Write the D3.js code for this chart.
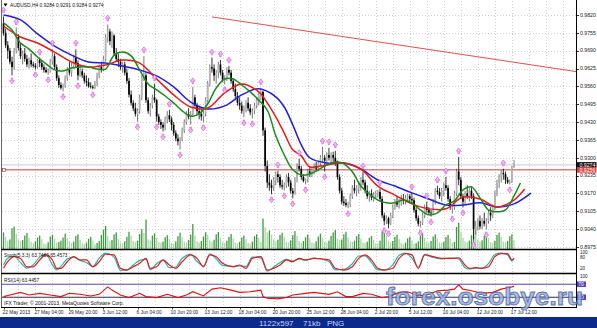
<!DOCTYPE html>
<html><head><meta charset="utf-8">
<script src="https://cdn.jsdelivr.net/npm/d3@7"></script>
<style>
html,body{margin:0;padding:0;background:#fff;overflow:hidden;}
svg{display:block;}
text{font-family:"Liberation Sans",Arial,sans-serif;}
</style></head><body>
<svg id="c" width="597" height="328"></svg>
<script>
// ---------- DATA ----------
const candles = [
[0.9790,0.9815,0.9745,0.9755],[0.9755,0.9770,0.9700,0.9710],[0.9710,0.9725,0.9660,0.9690],[0.9690,0.9700,0.9640,0.9650],
[0.9650,0.9668,0.9600,0.9630],[0.9630,0.9700,0.9620,0.9690],[0.9690,0.9775,0.9680,0.9740],[0.9740,0.9750,0.9690,0.9700],
[0.9700,0.9715,0.9660,0.9670],[0.9670,0.9690,0.9640,0.9680],[0.9680,0.9700,0.9650,0.9660],[0.9660,0.9675,0.9630,0.9640],
[0.9640,0.9665,0.9625,0.9655],[0.9655,0.9680,0.9630,0.9640],[0.9640,0.9650,0.9628,0.9635],[0.9635,0.9645,0.9622,0.9630],
[0.9630,0.9660,0.9625,0.9655],[0.9655,0.9665,0.9630,0.9645],[0.9645,0.9655,0.9620,0.9630],[0.9630,0.9640,0.9610,0.9620],
[0.9620,0.9630,0.9608,0.9612],[0.9612,0.9625,0.9603,0.9615],[0.9615,0.9660,0.9610,0.9650],[0.9650,0.9695,0.9640,0.9670],
[0.9670,0.9680,0.9620,0.9630],[0.9630,0.9640,0.9580,0.9590],[0.9590,0.9600,0.9555,0.9565],[0.9565,0.9575,0.9548,0.9555],
[0.9555,0.9570,0.9542,0.9562],[0.9562,0.9600,0.9555,0.9590],[0.9590,0.9630,0.9580,0.9620],[0.9620,0.9650,0.9600,0.9610],
[0.9610,0.9645,0.9595,0.9635],[0.9635,0.9675,0.9625,0.9665],[0.9665,0.9695,0.9630,0.9645],[0.9645,0.9655,0.9582,0.9600],
[0.9600,0.9640,0.9595,0.9615],[0.9615,0.9625,0.9590,0.9600],[0.9600,0.9610,0.9570,0.9580],[0.9580,0.9600,0.9560,0.9575],
[0.9575,0.9590,0.9555,0.9560],[0.9560,0.9575,0.9552,0.9558],[0.9558,0.9565,0.9549,0.9555],[0.9555,0.9580,0.9550,0.9570],
[0.9570,0.9610,0.9560,0.9600],[0.9600,0.9640,0.9590,0.9630],[0.9630,0.9650,0.9610,0.9620],[0.9620,0.9670,0.9615,0.9660],
[0.9660,0.9750,0.9650,0.9740],[0.9740,0.9785,0.9720,0.9760],[0.9760,0.9770,0.9710,0.9725],[0.9725,0.9760,0.9700,0.9745],
[0.9745,0.9750,0.9670,0.9680],[0.9680,0.9700,0.9650,0.9660],[0.9660,0.9680,0.9630,0.9650],[0.9650,0.9660,0.9620,0.9630],
[0.9630,0.9650,0.9610,0.9640],[0.9640,0.9650,0.9600,0.9610],[0.9610,0.9625,0.9570,0.9580],[0.9580,0.9590,0.9520,0.9530],
[0.9530,0.9545,0.9490,0.9500],[0.9500,0.9510,0.9470,0.9480],[0.9480,0.9500,0.9450,0.9460],[0.9460,0.9480,0.9432,0.9470],
[0.9470,0.9530,0.9460,0.9520],[0.9520,0.9600,0.9510,0.9590],[0.9590,0.9670,0.9580,0.9600],[0.9600,0.9610,0.9500,0.9510],
[0.9510,0.9520,0.9460,0.9470],[0.9470,0.9500,0.9450,0.9490],[0.9490,0.9530,0.9480,0.9520],[0.9520,0.9570,0.9500,0.9510],
[0.9510,0.9515,0.9432,0.9450],[0.9450,0.9460,0.9420,0.9430],[0.9430,0.9440,0.9405,0.9420],[0.9420,0.9430,0.9396,0.9410],
[0.9410,0.9450,0.9400,0.9440],[0.9440,0.9470,0.9425,0.9455],[0.9455,0.9475,0.9430,0.9440],[0.9440,0.9450,0.9400,0.9420],
[0.9420,0.9430,0.9380,0.9390],[0.9390,0.9400,0.9360,0.9370],[0.9370,0.9385,0.9345,0.9360],[0.9360,0.9375,0.9330,0.9365],
[0.9365,0.9410,0.9360,0.9400],[0.9400,0.9440,0.9390,0.9430],[0.9430,0.9470,0.9420,0.9460],[0.9460,0.9480,0.9440,0.9450],
[0.9450,0.9470,0.9421,0.9460],[0.9460,0.9558,0.9450,0.9520],[0.9520,0.9530,0.9480,0.9490],[0.9490,0.9500,0.9455,0.9470],
[0.9470,0.9490,0.9440,0.9460],[0.9460,0.9480,0.9435,0.9450],[0.9450,0.9470,0.9429,0.9460],[0.9460,0.9520,0.9450,0.9510],
[0.9510,0.9580,0.9500,0.9570],[0.9570,0.9640,0.9560,0.9630],[0.9630,0.9665,0.9610,0.9625],[0.9625,0.9640,0.9580,0.9600],
[0.9600,0.9620,0.9570,0.9610],[0.9610,0.9650,0.9590,0.9640],[0.9640,0.9656,0.9600,0.9610],[0.9610,0.9620,0.9575,0.9585],
[0.9585,0.9600,0.9567,0.9590],[0.9590,0.9630,0.9580,0.9620],[0.9620,0.9635,0.9600,0.9610],[0.9610,0.9620,0.9570,0.9580],
[0.9580,0.9590,0.9540,0.9550],[0.9550,0.9570,0.9510,0.9525],[0.9525,0.9540,0.9490,0.9500],[0.9500,0.9520,0.9475,0.9490],
[0.9490,0.9505,0.9460,0.9470],[0.9470,0.9490,0.9447,0.9480],[0.9480,0.9510,0.9465,0.9500],[0.9500,0.9520,0.9470,0.9480],
[0.9480,0.9495,0.9455,0.9465],[0.9465,0.9480,0.9443,0.9470],[0.9470,0.9500,0.9460,0.9490],[0.9490,0.9520,0.9480,0.9510],
[0.9510,0.9540,0.9490,0.9530],[0.9530,0.9555,0.9510,0.9540],[0.9540,0.9545,0.9380,0.9400],[0.9400,0.9410,0.9250,0.9270],
[0.9270,0.9290,0.9190,0.9210],[0.9210,0.9240,0.9180,0.9200],[0.9200,0.9220,0.9167,0.9190],[0.9190,0.9230,0.9180,0.9220],
[0.9220,0.9250,0.9200,0.9240],[0.9240,0.9252,0.9210,0.9230],[0.9230,0.9240,0.9190,0.9200],[0.9200,0.9220,0.9185,0.9195],
[0.9195,0.9210,0.9181,0.9200],[0.9200,0.9240,0.9190,0.9230],[0.9230,0.9245,0.9195,0.9210],[0.9210,0.9220,0.9170,0.9180],
[0.9180,0.9190,0.9152,0.9170],[0.9170,0.9230,0.9165,0.9220],[0.9220,0.9280,0.9210,0.9270],[0.9270,0.9296,0.9250,0.9260],
[0.9260,0.9270,0.9220,0.9230],[0.9230,0.9240,0.9210,0.9215],[0.9215,0.9225,0.9203,0.9220],[0.9220,0.9260,0.9210,0.9250],
[0.9250,0.9270,0.9230,0.9245],[0.9245,0.9265,0.9230,0.9255],[0.9255,0.9280,0.9240,0.9270],[0.9270,0.9285,0.9250,0.9260],
[0.9260,0.9290,0.9250,0.9280],[0.9280,0.9310,0.9270,0.9300],[0.9300,0.9340,0.9280,0.9300],[0.9300,0.9310,0.9250,0.9290],
[0.9290,0.9320,0.9275,0.9310],[0.9310,0.9336,0.9290,0.9300],[0.9300,0.9320,0.9280,0.9310],[0.9310,0.9322,0.9285,0.9300],
[0.9300,0.9325,0.9270,0.9280],[0.9280,0.9290,0.9220,0.9230],[0.9230,0.9240,0.9170,0.9180],[0.9180,0.9190,0.9130,0.9140],
[0.9140,0.9160,0.9125,0.9135],[0.9135,0.9150,0.9120,0.9128],[0.9128,0.9140,0.9116,0.9130],[0.9130,0.9170,0.9120,0.9160],
[0.9160,0.9200,0.9150,0.9190],[0.9190,0.9220,0.9170,0.9180],[0.9180,0.9200,0.9160,0.9190],[0.9190,0.9210,0.9170,0.9200],
[0.9200,0.9230,0.9180,0.9220],[0.9220,0.9249,0.9200,0.9210],[0.9210,0.9220,0.9170,0.9180],[0.9180,0.9200,0.9150,0.9160],
[0.9160,0.9180,0.9140,0.9170],[0.9170,0.9185,0.9145,0.9155],[0.9155,0.9175,0.9140,0.9165],[0.9165,0.9180,0.9150,0.9170],
[0.9170,0.9182,0.9155,0.9175],[0.9175,0.9188,0.9140,0.9150],[0.9150,0.9160,0.9080,0.9090],[0.9090,0.9100,0.9054,0.9070],
[0.9070,0.9090,0.9058,0.9080],[0.9080,0.9085,0.9043,0.9060],[0.9060,0.9100,0.9055,0.9090],[0.9090,0.9130,0.9080,0.9120],
[0.9120,0.9150,0.9110,0.9140],[0.9140,0.9160,0.9120,0.9130],[0.9130,0.9150,0.9115,0.9140],[0.9140,0.9165,0.9125,0.9150],
[0.9150,0.9168,0.9130,0.9145],[0.9145,0.9165,0.9130,0.9155],[0.9155,0.9168,0.9140,0.9160],[0.9160,0.9168,0.9140,0.9150],
[0.9150,0.9172,0.9135,0.9145],[0.9145,0.9155,0.9100,0.9110],[0.9110,0.9120,0.9070,0.9080],[0.9080,0.9090,0.9050,0.9060],
[0.9060,0.9070,0.9046,0.9062],[0.9062,0.9100,0.9055,0.9090],[0.9090,0.9130,0.9080,0.9120],[0.9120,0.9140,0.9100,0.9110],
[0.9110,0.9120,0.9092,0.9100],[0.9100,0.9110,0.9086,0.9098],[0.9098,0.9150,0.9095,0.9140],[0.9140,0.9190,0.9130,0.9180],
[0.9180,0.9198,0.9165,0.9175],[0.9175,0.9190,0.9150,0.9160],[0.9160,0.9190,0.9140,0.9180],[0.9180,0.9210,0.9160,0.9200],
[0.9200,0.9230,0.9180,0.9190],[0.9190,0.9200,0.9140,0.9150],[0.9150,0.9160,0.9110,0.9120],[0.9120,0.9130,0.9097,0.9120],
[0.9120,0.9180,0.9110,0.9170],[0.9170,0.9260,0.9160,0.9250],[0.9250,0.9303,0.9200,0.9220],[0.9220,0.9230,0.9150,0.9160],
[0.9160,0.9170,0.9119,0.9140],[0.9140,0.9180,0.9130,0.9170],[0.9170,0.9200,0.9150,0.9160],[0.9160,0.9190,0.9140,0.9180],
[0.9180,0.9195,0.9150,0.9160],[0.9160,0.9170,0.9003,0.9040],[0.9040,0.9070,0.9020,0.9050],[0.9050,0.9080,0.9035,0.9070],
[0.9070,0.9090,0.9040,0.9050],[0.9050,0.9080,0.9040,0.9070],[0.9070,0.9100,0.9050,0.9060],[0.9060,0.9080,0.9039,0.9070],
[0.9070,0.9110,0.9060,0.9100],[0.9100,0.9120,0.9070,0.9090],[0.9090,0.9130,0.9080,0.9120],[0.9120,0.9180,0.9110,0.9170],
[0.9170,0.9220,0.9160,0.9210],[0.9210,0.9240,0.9190,0.9230],[0.9230,0.9255,0.9210,0.9245],[0.9245,0.9260,0.9220,0.9240],
[0.9240,0.9250,0.9205,0.9220],[0.9220,0.9230,0.9205,0.9210],[0.9210,0.9220,0.9203,0.9212],[0.9212,0.9270,0.9208,0.9264],
[0.9264,0.9291,0.9264,0.9274]
];

const volumes = [5200,3800,
2600,3000,6500,7000,4800,3000, 2500,2800,4200,5000,3500,2200, 1800,2400,3600,4200,3000,1700,
1500,2100,3900,4500,3200,2000, 2200,2600,3600,4800,3300,2400, 1900,2300,4100,4600,2800,1800,
1600,2000,3200,3800,2600,1500, 1900,2500,4400,6000,7200,4000, 2600,2800,4600,5200,3100,2000,
1800,2400,3800,5400,4200,2500, 2100,2600,4700,6200,5000,9200, 3000,2700,4200,4900,3500,2200,
2000,2300,3700,4300,3100,1900, 1700,2400,4000,5100,3600,2300, 2000,2800,4500,7800,4200,2400,
2000,2500,3900,5200,4400,2700, 2300,2900,4600,5300,3500,2100, 1900,2600,3800,4700,3300,2000,
1800,2200,3600,4200,3100,1900, 1700,2300,4000,4600,3400,2200, 9500,6800,5200,5800,4500,3000,
2400,2900,4400,5100,3800,2300, 2100,2700,4300,5600,4100,2500, 2000,2500,3700,4500,3300,2000,
1800,2400,3900,4800,3500,2200, 2000,2600,4100,5200,5900,3200, 2800,3000,4600,5400,3600,2300,
2200,2600,4000,4700,3200,2000, 1900,2300,3500,4100,2900,1800, 1700,2600,5500,6200,4300,2600,
2100,2500,3800,4500,3100,1900, 1600,2000,3300,3800,2700,1700, 1800,2400,4200,4900,3400,2200,
2000,2500,3900,4600,3300,2100, 1900,2300,3800,4400,3200,2000, 2200,6900,8200,5200,3500,2400,
2100,2600,4300,8800,5600,3000, 2300,2700,4100,4900,3400,2100, 2000,2600,4400,5100,3800,2300,
2100,2500,4000,4600,2900];

// Alligator lines (bar index, price)
const blueBars = [0,8,16,24,32,40,48,56,64,72,80,88,96,104,112,120,128,132,136,140,144,152,160,168,176,184,192,200,208,216,224,232,240,248];
const blueVals = [0.9820,0.9802,0.9751,0.9707,0.9674,0.9649,0.9645,0.9634,0.9620,0.9598,0.9558,0.9503,0.9478,0.9489,0.9529,0.9551,0.9522,0.9485,0.9420,0.9347,0.9300,0.9281,0.9281,0.9259,0.9219,0.9197,0.9172,0.9150,0.9128,0.9128,0.9136,0.9121,0.9132,0.9172];
const redBars = [0,8,16,24,32,40,48,56,64,72,80,88,96,104,112,120,124,128,132,136,140,144,152,160,168,176,184,192,200,208,216,224,232,240,245];
const redVals = [0.9780,0.9740,0.9718,0.9685,0.9649,0.9631,0.9638,0.9656,0.9645,0.9587,0.9529,0.9485,0.9481,0.9536,0.9569,0.9540,0.9500,0.9449,0.9390,0.9329,0.9307,0.9267,0.9274,0.9281,0.9259,0.9197,0.9164,0.9132,0.9114,0.9114,0.9157,0.9150,0.9121,0.9146,0.9186];
const greenBars = [0,4,8,12,16,20,24,28,32,36,40,44,48,52,56,60,64,68,72,76,80,84,88,92,96,100,104,108,112,116,120,124,128,132,136,140,144,148,152,156,160,164,168,172,176,180,184,188,192,196,200,204,208,212,216,220,224,228,232,236,240,243];
const greenVals = [0.9791,0.9765,0.9718,0.9696,0.9667,0.9642,0.9620,0.9616,0.9627,0.9631,0.9631,0.9623,0.9623,0.9674,0.9685,0.9671,0.9620,0.9569,0.9547,0.9525,0.9500,0.9471,0.9452,0.9460,0.9496,0.9554,0.9587,0.9587,0.9565,0.9540,0.9510,0.9474,0.9380,0.9310,0.9256,0.9237,0.9241,0.9256,0.9274,0.9285,0.9278,0.9249,0.9197,0.9168,0.9146,0.9136,0.9136,0.9146,0.9136,0.9110,0.9092,0.9099,0.9128,0.9143,0.9183,0.9194,0.9154,0.9110,0.9103,0.9110,0.9161,0.9208];

// Fractals
const fracUpBars = [0,6,17,23,34,49,66,71,78,89,98,102,106,121,129,139,150,153,156,169,177,192,199,204,208,214,235];
const fracUpVals = [0.9838,0.9795,0.9685,0.9718,0.9718,0.9809,0.9693,0.9591,0.9496,0.9580,0.9685,0.9678,0.9656,0.9576,0.9274,0.9318,0.9361,0.9358,0.9347,0.9270,0.9209,0.9194,0.9161,0.9219,0.9252,0.9325,0.9281];
const fracDnBars = [4,15,21,28,35,42,63,72,75,83,88,94,104,113,117,126,132,136,142,151,162,179,181,196,201,211,216,221,227,238];
const fracDnVals = [0.9580,0.9602,0.9583,0.9522,0.9562,0.9529,0.9412,0.9412,0.9376,0.9310,0.9401,0.9409,0.9547,0.9427,0.9423,0.9147,0.9161,0.9132,0.9183,0.9230,0.9096,0.9034,0.9023,0.9026,0.9066,0.9077,0.9099,0.8983,0.9019,0.9183];

// Trend line and levels
const trendBars = [98,270];
const trendVals = [0.9813,0.9613];
const redLevel = 0.9256;
const bidLevel = 0.9274;

// Stochastic (5,3,3)
const stochBars = [0,2,5,8,11,14,17,20,23,25,27,30,33,36,39,42,45,48,52,55,58,61,64,67,69,72,75,78,81,84,88,91,94,97,100,103,108,111,114,117,121,124,127,130,133,136,139,142,146,153,156,160,164,167,170,173,176,179,183,186,189,192,195,198,202,206,211,214,217,219,222,225,228,231,234,237,239,240];
const stochSignal = [19,49,72,64,26,26,57,80,57,19,19,49,72,57,57,26,49,83,80,19,11,26,42,64,19,26,57,34,19,49,80,64,26,80,72,42,26,34,19,64,72,11,19,34,57,49,64,57,64,57,19,11,26,64,80,57,19,11,19,64,86,80,19,80,72,64,64,67,34,19,22,19,26,72,86,86,57,65.5];
const stochMain = [35,65,75,45,20,35,70,82,35,12,28,62,70,55,45,28,65,88,70,10,12,34,55,60,12,40,55,22,25,65,82,50,30,85,62,32,28,30,28,70,65,6,25,45,60,52,62,55,66,50,12,14,40,75,76,45,12,12,35,78,88,65,25,82,68,62,66,62,22,16,20,20,40,82,88,80,52,63.7];

// RSI(14)
const rsiBars = [0,3,8,12,17,22,27,31,36,41,45,49,51,55,59,64,67,72,77,82,86,89,94,98,102,107,111,116,121,122,124,129,133,136,142,146,153,157,161,164,169,173,178,181,186,190,195,200,204,209,212,214,216,220,225,230,234,237,240];
const rsiVals = [32,37,45,37,42,37,32,42,39,34,39,62,52,37,29,42,32,29,39,29,37,47,34,55,59,52,45,47,52,32,27,25,29,37,42,45,39,47,32,32,42,39,29,32,45,47,34,39,50,52,55,68,55,50,42,45,55,59,63.4];

// Axis labels
const priceTicks = [0.9820,0.9755,0.9690,0.9625,0.9560,0.9495,0.9430,0.9365,0.9300,0.9235,0.9170,0.9105,0.9040,0.8975];
const timeBars = [0,15,31,47,63,79,95,111,127,143,159,175,191,207,223,239];
const timeLabels = ["22 May 2013","27 May 04:00","29 May 20:00","3 Jun 12:00","6 Jun 04:00","10 Jun 20:00","13 Jun 12:00","18 Jun 04:00","20 Jun 20:00","25 Jun 12:00","28 Jun 04:00","2 Jul 20:00","5 Jul 12:00","10 Jul 04:00","12 Jul 20:00","17 Jul 12:00"];
const titleText = "AUDUSD,H4  0.9284 0.9291 0.9284 0.9274";
const stochTitle = "Stoch(5,3,3) 63.7460 65.4573";
const rsiTitle = "RSI(14) 63.4457";
const copyright = "IFX Trader, \u00A9 2001-2013, MetaQuotes Software Corp.";

// ---------- DRAW ----------
const svg = d3.select('#c');
const PR = 576.5; // right edge of plot
const x = d3.scaleLinear().domain([0,240]).range([3.5,514]);
const y = d3.scaleLinear().domain([0.8975,0.9820]).range([247,15]);
const vY = d3.scaleLinear().domain([0,10000]).range([249,217]);
const sY = d3.scaleLinear().domain([0,100]).range([272.5,250.5]);
const rY = d3.scaleLinear().domain([0,100]).range([307,274.5]);

svg.append('defs').append('clipPath').attr('id','clipMain')
  .append('rect').attr('x',2).attr('y',1).attr('width',PR-2).attr('height',248);

// grid
const grid = svg.append('g').attr('stroke','#c4c4c4').attr('stroke-width',0.8).attr('stroke-dasharray','1,2');
grid.selectAll('line.v').data(d3.range(7,272,8).filter(b=>x(b)<PR-1)).join('line')
  .attr('x1',b=>Math.round(x(b))+0.5).attr('x2',b=>Math.round(x(b))+0.5).attr('y1',1).attr('y2',307);
grid.selectAll('line.h').data(priceTicks).join('line')
  .attr('x1',2).attr('x2',PR).attr('y1',p=>Math.round(y(p))+0.5).attr('y2',p=>Math.round(y(p))+0.5);

// volumes
svg.append('g').selectAll('rect').data(volumes).join('rect')
  .attr('x',(d,i)=>x(i)-0.65).attr('width',1.3)
  .attr('y',d=>vY(d)).attr('height',d=>249-vY(d))
  .attr('fill',(d,i)=> (i>0 && d<volumes[i-1]) ? '#a9d6a9' : '#3f9a3f');

const main = svg.append('g').attr('clip-path','url(#clipMain)');

// trend line
main.append('line').attr('x1',x(trendBars[0])).attr('y1',y(trendVals[0]))
  .attr('x2',x(trendBars[1])).attr('y2',y(trendVals[1]))
  .attr('stroke','#e05050').attr('stroke-width',1);

// bid & level lines
main.append('line').attr('x1',2).attr('x2',PR).attr('y1',y(bidLevel)).attr('y2',y(bidLevel))
  .attr('stroke','#bdbdbd').attr('stroke-width',0.8);
main.append('line').attr('x1',2).attr('x2',PR).attr('y1',y(redLevel)).attr('y2',y(redLevel))
  .attr('stroke','#d03a3a').attr('stroke-width',1);
svg.append('rect').attr('x',2.5).attr('y',y(redLevel)-1.5).attr('width',3).attr('height',3)
  .attr('fill','#fff').attr('stroke','#d03a3a').attr('stroke-width',0.7);

// candles
const cg = main.append('g');
cg.selectAll('line').data(candles).join('line')
  .attr('x1',(d,i)=>x(i)).attr('x2',(d,i)=>x(i))
  .attr('y1',d=>y(d[1])).attr('y2',d=>y(d[2]))
  .attr('stroke',d=>d[3]>=d[0]?'#555':'#000').attr('stroke-width',0.8);
cg.selectAll('rect').data(candles).join('rect')
  .attr('x',(d,i)=>x(i)-0.85).attr('width',1.7)
  .attr('y',d=>y(Math.max(d[0],d[3])))
  .attr('height',d=>Math.max(0.7, y(Math.min(d[0],d[3]))-y(Math.max(d[0],d[3]))))
  .attr('fill',d=>d[3]>=d[0]?'#b4b4b4':'#000');

// alligator
function maLine(bars, vals, color){
  const pts = bars.map((b,i)=>[b,vals[i]]);
  main.append('path').datum(pts)
    .attr('d', d3.line().x(d=>x(d[0])).y(d=>y(d[1])).curve(d3.curveCatmullRom.alpha(0.5)))
    .attr('fill','none').attr('stroke',color).attr('stroke-width',1.5);
}
maLine(blueBars, blueVals, '#1f1fd8');
maLine(redBars, redVals, '#e31b1b');
maLine(greenBars, greenVals, '#1a8a1a');

// fractals
const upArrow = 'M0,-3 L2.4,0.2 L0.8,0.2 L0.8,2.8 L-0.8,2.8 L-0.8,0.2 L-2.4,0.2 Z';
const dnArrow = 'M0,3 L2.4,-0.2 L0.8,-0.2 L0.8,-2.8 L-0.8,-2.8 L-0.8,-0.2 L-2.4,-0.2 Z';
main.append('g').selectAll('path').data(fracUpBars.map((b,i)=>[b,fracUpVals[i]])).join('path')
  .attr('d',upArrow).attr('transform',d=>`translate(${x(d[0])},${y(d[1])})`)
  .attr('fill','#f3c0f5').attr('stroke','#d860de').attr('stroke-width',0.7);
main.append('g').selectAll('path').data(fracDnBars.map((b,i)=>[b,fracDnVals[i]])).join('path')
  .attr('d',dnArrow).attr('transform',d=>`translate(${x(d[0])},${y(d[1])})`)
  .attr('fill','#f3c0f5').attr('stroke','#d860de').attr('stroke-width',0.7);

// stochastic
const stochLine = d3.line().x(d=>x(d[0])).y(d=>sY(d[1])).curve(d3.curveMonotoneX);
svg.append('path').datum(stochBars.map((b,i)=>[b,stochMain[i]])).attr('d',stochLine)
  .attr('fill','none').attr('stroke','#28b4ac').attr('stroke-width',1.2);
svg.append('path').datum(stochBars.map((b,i)=>[b,stochSignal[i]])).attr('d',stochLine)
  .attr('fill','none').attr('stroke','#e01c1c').attr('stroke-width',1.2);

// RSI
svg.append('line').attr('x1',2).attr('x2',PR).attr('y1',rY(70)).attr('y2',rY(70)).attr('stroke','#6a3fa6').attr('stroke-width',1.2);
svg.append('line').attr('x1',2).attr('x2',PR).attr('y1',rY(30)).attr('y2',rY(30)).attr('stroke','#2c2c58').attr('stroke-width',1.2);
svg.append('path').datum(rsiBars.map((b,i)=>[b,rsiVals[i]]))
  .attr('d', d3.line().x(d=>x(d[0])).y(d=>rY(d[1])))
  .attr('fill','none').attr('stroke','#e01010').attr('stroke-width',1.1);

// frames
const fr = svg.append('g').attr('fill','none').attr('stroke','#000');
fr.append('line').attr('x1',1.5).attr('x2',1.5).attr('y1',0).attr('y2',308).attr('stroke','#666').attr('stroke-width',1);
fr.append('line').attr('x1',PR).attr('x2',PR).attr('y1',0).attr('y2',308).attr('stroke-width',1);
fr.append('line').attr('x1',1).attr('x2',PR).attr('y1',249.5).attr('y2',249.5).attr('stroke-width',1.4);
fr.append('line').attr('x1',1).attr('x2',PR).attr('y1',273.5).attr('y2',273.5).attr('stroke-width',1.4);
fr.append('line').attr('x1',1).attr('x2',PR).attr('y1',307.5).attr('y2',307.5).attr('stroke-width',1);

// price axis
const ax = svg.append('g');
ax.selectAll('line').data(priceTicks).join('line')
  .attr('x1',PR).attr('x2',PR+2.5).attr('y1',p=>Math.round(y(p))+0.5).attr('y2',p=>Math.round(y(p))+0.5)
  .attr('stroke','#000').attr('stroke-width',0.8);
ax.selectAll('text').data(priceTicks).join('text')
  .attr('x',580).attr('y',p=>y(p)+1.8).attr('font-size',5.2).attr('fill','#222')
  .text(p=>p.toFixed(4));

// current price boxes
function priceBox(v, fill){
  svg.append('rect').attr('x',577).attr('y',y(v)-2.8).attr('width',19.5).attr('height',5.6).attr('fill',fill);
  svg.append('text').attr('x',579.5).attr('y',y(v)+1.9).attr('font-size',5.2).attr('fill','#fff').text(v.toFixed(4));
}
priceBox(bidLevel,'#111');
priceBox(redLevel,'#e03b3b');

// stoch/rsi scale labels
const sl = svg.append('g').attr('font-size',4.6).attr('fill','#222');
sl.append('text').attr('x',580).attr('y',253.6).text('100');
sl.append('text').attr('x',580).attr('y',259.4).text('80');
sl.append('text').attr('x',580).attr('y',sY(20)+1.8).text('20');
sl.append('text').attr('x',580).attr('y',rY(100)+3.5).text('100');
[[70,'70'],[30,'30']].forEach(([v,t])=>{
  svg.append('rect').attr('x',577).attr('y',rY(v)-2.8).attr('width',9).attr('height',5.6).attr('fill','#5746b4');
  svg.append('text').attr('x',578.3).attr('y',rY(v)+1.9).attr('font-size',5).attr('fill','#fff').text(t);
});

// time axis
const tx = svg.append('g');
tx.selectAll('line').data(timeBars).join('line')
  .attr('x1',b=>Math.round(x(b))+0.5).attr('x2',b=>Math.round(x(b))+0.5).attr('y1',307.5).attr('y2',309.5)
  .attr('stroke','#000').attr('stroke-width',0.7);
tx.selectAll('text').data(timeBars).join('text')
  .attr('x',b=>Math.max(1,x(b)-1)).attr('y',313.5).attr('font-size',4.8).attr('fill','#222')
  .text((b,i)=>timeLabels[i]);

// titles
svg.append('path').attr('d','M3.5,3.5 L7.5,3.5 L5.5,6.5 Z').attr('fill','#000');
svg.append('text').attr('x',10).attr('y',7).attr('font-size',4.9).attr('fill','#111').text(titleText);
svg.append('text').attr('x',4).attr('y',257).attr('font-size',4.8).attr('fill','#111').text(stochTitle);
svg.append('text').attr('x',4).attr('y',282).attr('font-size',4.8).attr('fill','#111').text(rsiTitle);
svg.append('text').attr('x',4).attr('y',304.5).attr('font-size',5).attr('fill','#111').text(copyright);

// watermark
svg.append('text').attr('x',386).attr('y',305).attr('font-size',24).attr('font-weight','bold')
  .attr('textLength',197).attr('lengthAdjust','spacingAndGlyphs')
  .attr('fill','#9fb3df').attr('stroke','#46609f').attr('stroke-width',0.9).attr('opacity',0.85)
  .text('forex.osobye.ru');

// status bar
svg.append('rect').attr('x',0).attr('y',317).attr('width',597).attr('height',11).attr('fill','#0c2a8c');
const sb = svg.append('g').attr('font-size',8).attr('fill','#cfd9f5');
sb.append('text').attr('x',259).attr('y',326).text('1122x597');
sb.append('text').attr('x',303).attr('y',326).text('71kb');
sb.append('text').attr('x',327).attr('y',326).text('PNG');
</script>
</body></html>
